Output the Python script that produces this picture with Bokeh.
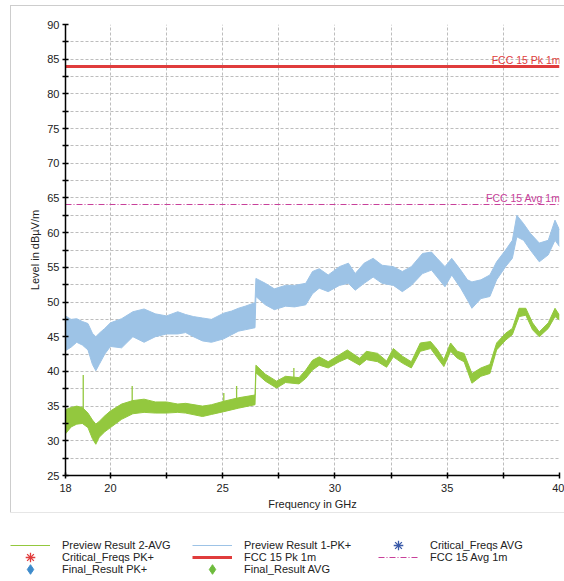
from bokeh.plotting import figure
from bokeh.models import FixedTicker, Label, Legend, LegendItem, Range1d, InlineStyleSheet
from bokeh.embed import file_html
from bokeh.resources import INLINE

# ---------------- data ----------------
freq_pk = [18.0, 18.25, 18.5, 18.75, 19.0, 19.2, 19.35, 19.5, 19.75, 20.0, 20.5, 21.0, 21.5,
           22.0, 22.5, 23.0, 23.35, 23.7, 24.1, 24.5, 25.05, 25.4, 25.7, 26.0, 26.44, 26.48,
           26.9, 27.3, 27.8, 28.2, 28.7, 29.0, 29.3, 29.7, 30.2, 30.6, 30.9, 31.3, 31.7, 32.1,
           32.6, 33.0, 33.4, 33.9, 34.3, 34.55, 34.9, 35.2, 35.6, 35.9, 36.1, 36.5, 36.9, 37.2,
           37.6, 37.9, 38.1, 38.4, 38.7, 39.1, 39.5, 39.8, 40.0]
pk_hi = [48.0, 47.5, 47.6, 47.2, 46.9, 45.5, 45.0, 45.5, 46.2, 47.0, 47.6, 48.6, 49.0,
         48.3, 48.0, 48.6, 48.2, 47.9, 47.7, 47.5, 48.4, 48.7, 49.1, 49.4, 49.9, 53.4,
         52.7, 51.9, 52.4, 52.4, 52.7, 54.4, 54.8, 53.9, 55.1, 55.6, 54.1, 55.6, 56.3, 55.3,
         55.1, 54.4, 55.1, 57.0, 57.2, 56.3, 55.1, 56.3, 54.6, 53.2, 52.9, 53.2, 53.9, 55.8,
         57.5, 58.9, 62.5, 61.3, 59.9, 58.5, 58.9, 61.8, 60.4]
pk_lo = [43.0, 43.5, 44.2, 43.8, 43.1, 41.0, 40.1, 41.0, 42.5, 43.6, 43.4, 45.0, 44.2,
         45.0, 45.4, 45.4, 45.6, 45.0, 44.4, 44.2, 44.7, 45.3, 45.8, 46.0, 46.3, 50.8,
         49.6, 48.9, 49.4, 49.3, 49.6, 51.2, 52.0, 51.5, 52.4, 52.7, 51.7, 52.7, 53.6, 52.7,
         52.4, 51.5, 52.4, 54.1, 54.6, 53.6, 52.2, 53.9, 52.0, 50.3, 49.1, 50.5, 50.8, 53.2,
         55.1, 56.3, 59.4, 58.9, 57.5, 55.8, 56.8, 58.9, 58.0]

freq_av = [18.0, 18.25, 18.5, 18.75, 19.0, 19.2, 19.35, 19.5, 19.75, 20.0, 20.5, 21.0, 21.5,
           22.0, 22.5, 23.0, 23.35, 24.1, 24.5, 25.05, 25.7, 26.44, 26.48, 26.9, 27.4, 27.8,
           28.4, 28.7, 29.0, 29.3, 29.7, 30.2, 30.55, 31.1, 31.4, 31.9, 32.3, 32.6, 33.0, 33.4,
           33.8, 34.26, 34.55, 34.85, 35.15, 35.45, 35.75, 36.1, 36.5, 36.9, 37.2, 37.6, 37.9,
           38.2, 38.5, 38.8, 39.1, 39.5, 39.8, 40.0]
av_hi = [34.5, 34.8, 35.0, 34.8, 34.0, 33.0, 32.4, 32.8, 33.6, 34.3, 35.3, 35.8, 36.0,
         35.6, 35.6, 35.3, 35.4, 35.0, 35.2, 35.7, 36.2, 36.6, 40.9, 39.6, 38.6, 39.3,
         39.1, 40.2, 41.6, 42.1, 41.4, 42.4, 43.1, 41.9, 42.9, 42.6, 41.5, 43.3, 42.2, 41.4,
         44.1, 44.3, 43.2, 41.7, 44.1, 42.9, 42.6, 39.7, 40.5, 41.0, 44.1, 45.5, 46.2,
         49.1, 49.1, 47.0, 45.7, 47.0, 49.1, 48.1]
av_lo = [31.0, 32.0, 32.4, 32.5, 31.9, 30.3, 29.5, 30.5, 31.3, 31.9, 33.1, 33.9, 34.1,
         34.0, 34.0, 34.1, 34.0, 33.5, 33.8, 34.2, 34.7, 35.2, 39.8, 38.6, 37.6, 38.4,
         38.2, 39.0, 40.2, 40.9, 40.5, 41.4, 41.9, 40.9, 41.7, 41.4, 40.6, 42.1, 41.2, 40.5,
         42.9, 43.3, 42.0, 40.7, 42.9, 41.9, 41.4, 38.3, 39.3, 39.7, 43.1, 44.5, 45.3,
         47.9, 48.1, 46.0, 45.0, 46.2, 47.9, 47.4]

spike_f = [18.79, 20.97, 25.05, 25.62, 28.17]
spike_base = [34.5, 35.5, 35.5, 36.0, 39.0]
spike_top = [39.5, 37.9, 36.9, 37.9, 40.5]

fcc_pk_limit = [84.0]
fcc_avg_limit = [64.0]

x_major = [18, 20, 25, 30, 35, 40]
x_minor = [22.5, 27.5, 32.5, 37.5]
y_major = [25, 30, 35, 40, 45, 50, 55, 60, 65, 70, 75, 80, 85, 90]
y_minor = [27.5, 32.5, 37.5, 42.5, 47.5, 52.5, 57.5, 62.5, 67.5, 72.5, 77.5, 82.5, 87.5]

legend_col1 = ["Preview Result 2-AVG", "Critical_Freqs PK+", "Final_Result PK+"]
legend_col2 = ["Preview Result 1-PK+", "FCC 15 Pk 1m", "Final_Result AVG"]
legend_col3 = ["Critical_Freqs AVG", "FCC 15 Avg 1m"]

# ---------------- styles ----------------
FONT = "Liberation Sans"
BLUE = "#9DC3E6"
GREEN = "#93C83E"
RED = "#E03C3C"
MAGENTA = "#C8409A"
GRID = "#BDBDBD"
NAN = [float("nan")]

p = figure(width=564, height=512, x_range=Range1d(18, 40), y_range=Range1d(25, 90),
           output_backend="svg", toolbar_location=None,
           min_border_left=65, min_border_right=5, min_border_top=24, min_border_bottom=37)
p.outline_line_color = None
# thin light-grey frame around the chart panel
p.stylesheets = [InlineStyleSheet(css=(
    ":host { position: relative; }"
    ":host::after { content: ''; position: absolute; left: 10px; top: 5px; "
    "width: 600px; height: 506px; border: 1px solid #cdcdcd; pointer-events: none; }"))]

p.xaxis.ticker = FixedTicker(ticks=x_major, minor_ticks=x_minor)
p.yaxis.ticker = FixedTicker(ticks=y_major, minor_ticks=y_minor)
for ax in (p.xaxis, p.yaxis):
    ax.axis_line_color = "black"
    ax.axis_line_width = 1.5
    ax.major_tick_line_color = "black"
    ax.minor_tick_line_color = "black"
    ax.major_tick_line_width = 1.5
    ax.minor_tick_line_width = 1.5
    ax.major_tick_in = 3
    ax.major_tick_out = 3
    ax.minor_tick_in = 3
    ax.minor_tick_out = 3
    ax.major_label_text_font = FONT
    ax.major_label_text_font_size = "11px"
    ax.major_label_text_color = "#222222"
    ax.axis_label_text_font = FONT
    ax.axis_label_text_font_size = "11px"
    ax.axis_label_text_font_style = "normal"
    ax.axis_label_text_color = "#222222"
p.xaxis.axis_label = "Frequency in GHz"
p.yaxis.axis_label = "Level in dBµV/m"
p.xaxis.major_label_standoff = 5
p.xaxis.axis_label_standoff = 3
p.yaxis.major_label_standoff = 3
p.yaxis.axis_label_standoff = 3

for g in (p.xgrid, p.ygrid):
    g.grid_line_color = GRID
    g.grid_line_dash = "3 2"
    g.grid_line_width = 1
    g.minor_grid_line_color = GRID
    g.minor_grid_line_dash = "3 2"
    g.minor_grid_line_width = 1

# traces
p.varea(x=freq_pk, y1=pk_lo, y2=pk_hi, fill_color=BLUE)
p.line(freq_pk, pk_hi, line_color=BLUE, line_width=1)
p.line(freq_pk, pk_lo, line_color=BLUE, line_width=1)
p.varea(x=freq_av, y1=av_lo, y2=av_hi, fill_color=GREEN)
p.line(freq_av, av_hi, line_color=GREEN, line_width=1)
p.line(freq_av, av_lo, line_color=GREEN, line_width=1)
p.segment(x0=spike_f, y0=spike_base, x1=spike_f, y1=spike_top, line_color=GREEN, line_width=1.3)

# limits
p.hspan(y=fcc_pk_limit, line_color=RED, line_width=3)
p.hspan(y=fcc_avg_limit, line_color=MAGENTA, line_width=1, line_dash="6 2 1 2")
p.add_layout(Label(x=40, y=fcc_pk_limit[0], text="FCC 15 Pk 1m", text_align="right",
                   text_baseline="bottom", x_offset=1, y_offset=0, text_color=RED,
                   text_font=FONT, text_font_size="10.5px"))
p.add_layout(Label(x=40, y=fcc_avg_limit[0], text="FCC 15 Avg 1m", text_align="right",
                   text_baseline="bottom", x_offset=1, y_offset=1, text_color=MAGENTA,
                   text_font=FONT, text_font_size="10.5px"))

# ---------------- legend panel ----------------
lf = figure(width=564, height=69, x_range=Range1d(0, 1), y_range=Range1d(0, 1),
            output_backend="svg", toolbar_location=None, min_border=0,
            x_axis_location=None, y_axis_location=None)
lf.outline_line_color = None
lf.grid.visible = False

# legend-only renderers (no points are drawn for these series)
r_av = lf.line(NAN, NAN, line_color=GREEN, line_width=1)
r_pk = lf.line(NAN, NAN, line_color=BLUE, line_width=1)
r_crit_pk = lf.scatter(NAN, NAN, marker="asterisk", line_color=RED, line_width=1.3)
r_crit_av = lf.scatter(NAN, NAN, marker="asterisk", line_color="#3A5AA8", line_width=1.3)
r_fin_pk = lf.scatter(NAN, NAN, marker="diamond", fill_color="#3D8BCB", line_color="#3D8BCB")
r_fin_av = lf.scatter(NAN, NAN, marker="diamond", fill_color="#6DBB3C", line_color="#6DBB3C")
r_fcc_pk = lf.line(NAN, NAN, line_color=RED, line_width=3)
r_fcc_av = lf.line(NAN, NAN, line_color=MAGENTA, line_width=1, line_dash="6 2 1 2")

GH = 24                      # glyph cell height (sets legend marker size)
col_x = [10, 192, 378]       # left edge of each legend column
row_center = [36, 24, 12]    # row centres, px above the panel bottom
cols = [
    (legend_col1, [r_av, r_crit_pk, r_fin_pk]),
    (legend_col2, [r_pk, r_fcc_pk, r_fin_av]),
    (legend_col3, [r_crit_av, r_fcc_av]),
]
for ci, (labels, rends) in enumerate(cols):
    for ri, (lab, r) in enumerate(zip(labels, rends)):
        leg = Legend(items=[LegendItem(label=lab, renderers=[r])],
                     location=(col_x[ci], row_center[ri] - GH // 2),
                     padding=0, margin=0, spacing=0, glyph_width=40, glyph_height=GH,
                     label_height=12, label_standoff=12, label_text_font=FONT,
                     label_text_font_size="11px", label_text_color="#222222",
                     border_line_color=None, background_fill_alpha=0)
        lf.add_layout(leg)

open("out.html", "w").write(file_html([p, lf], INLINE))
